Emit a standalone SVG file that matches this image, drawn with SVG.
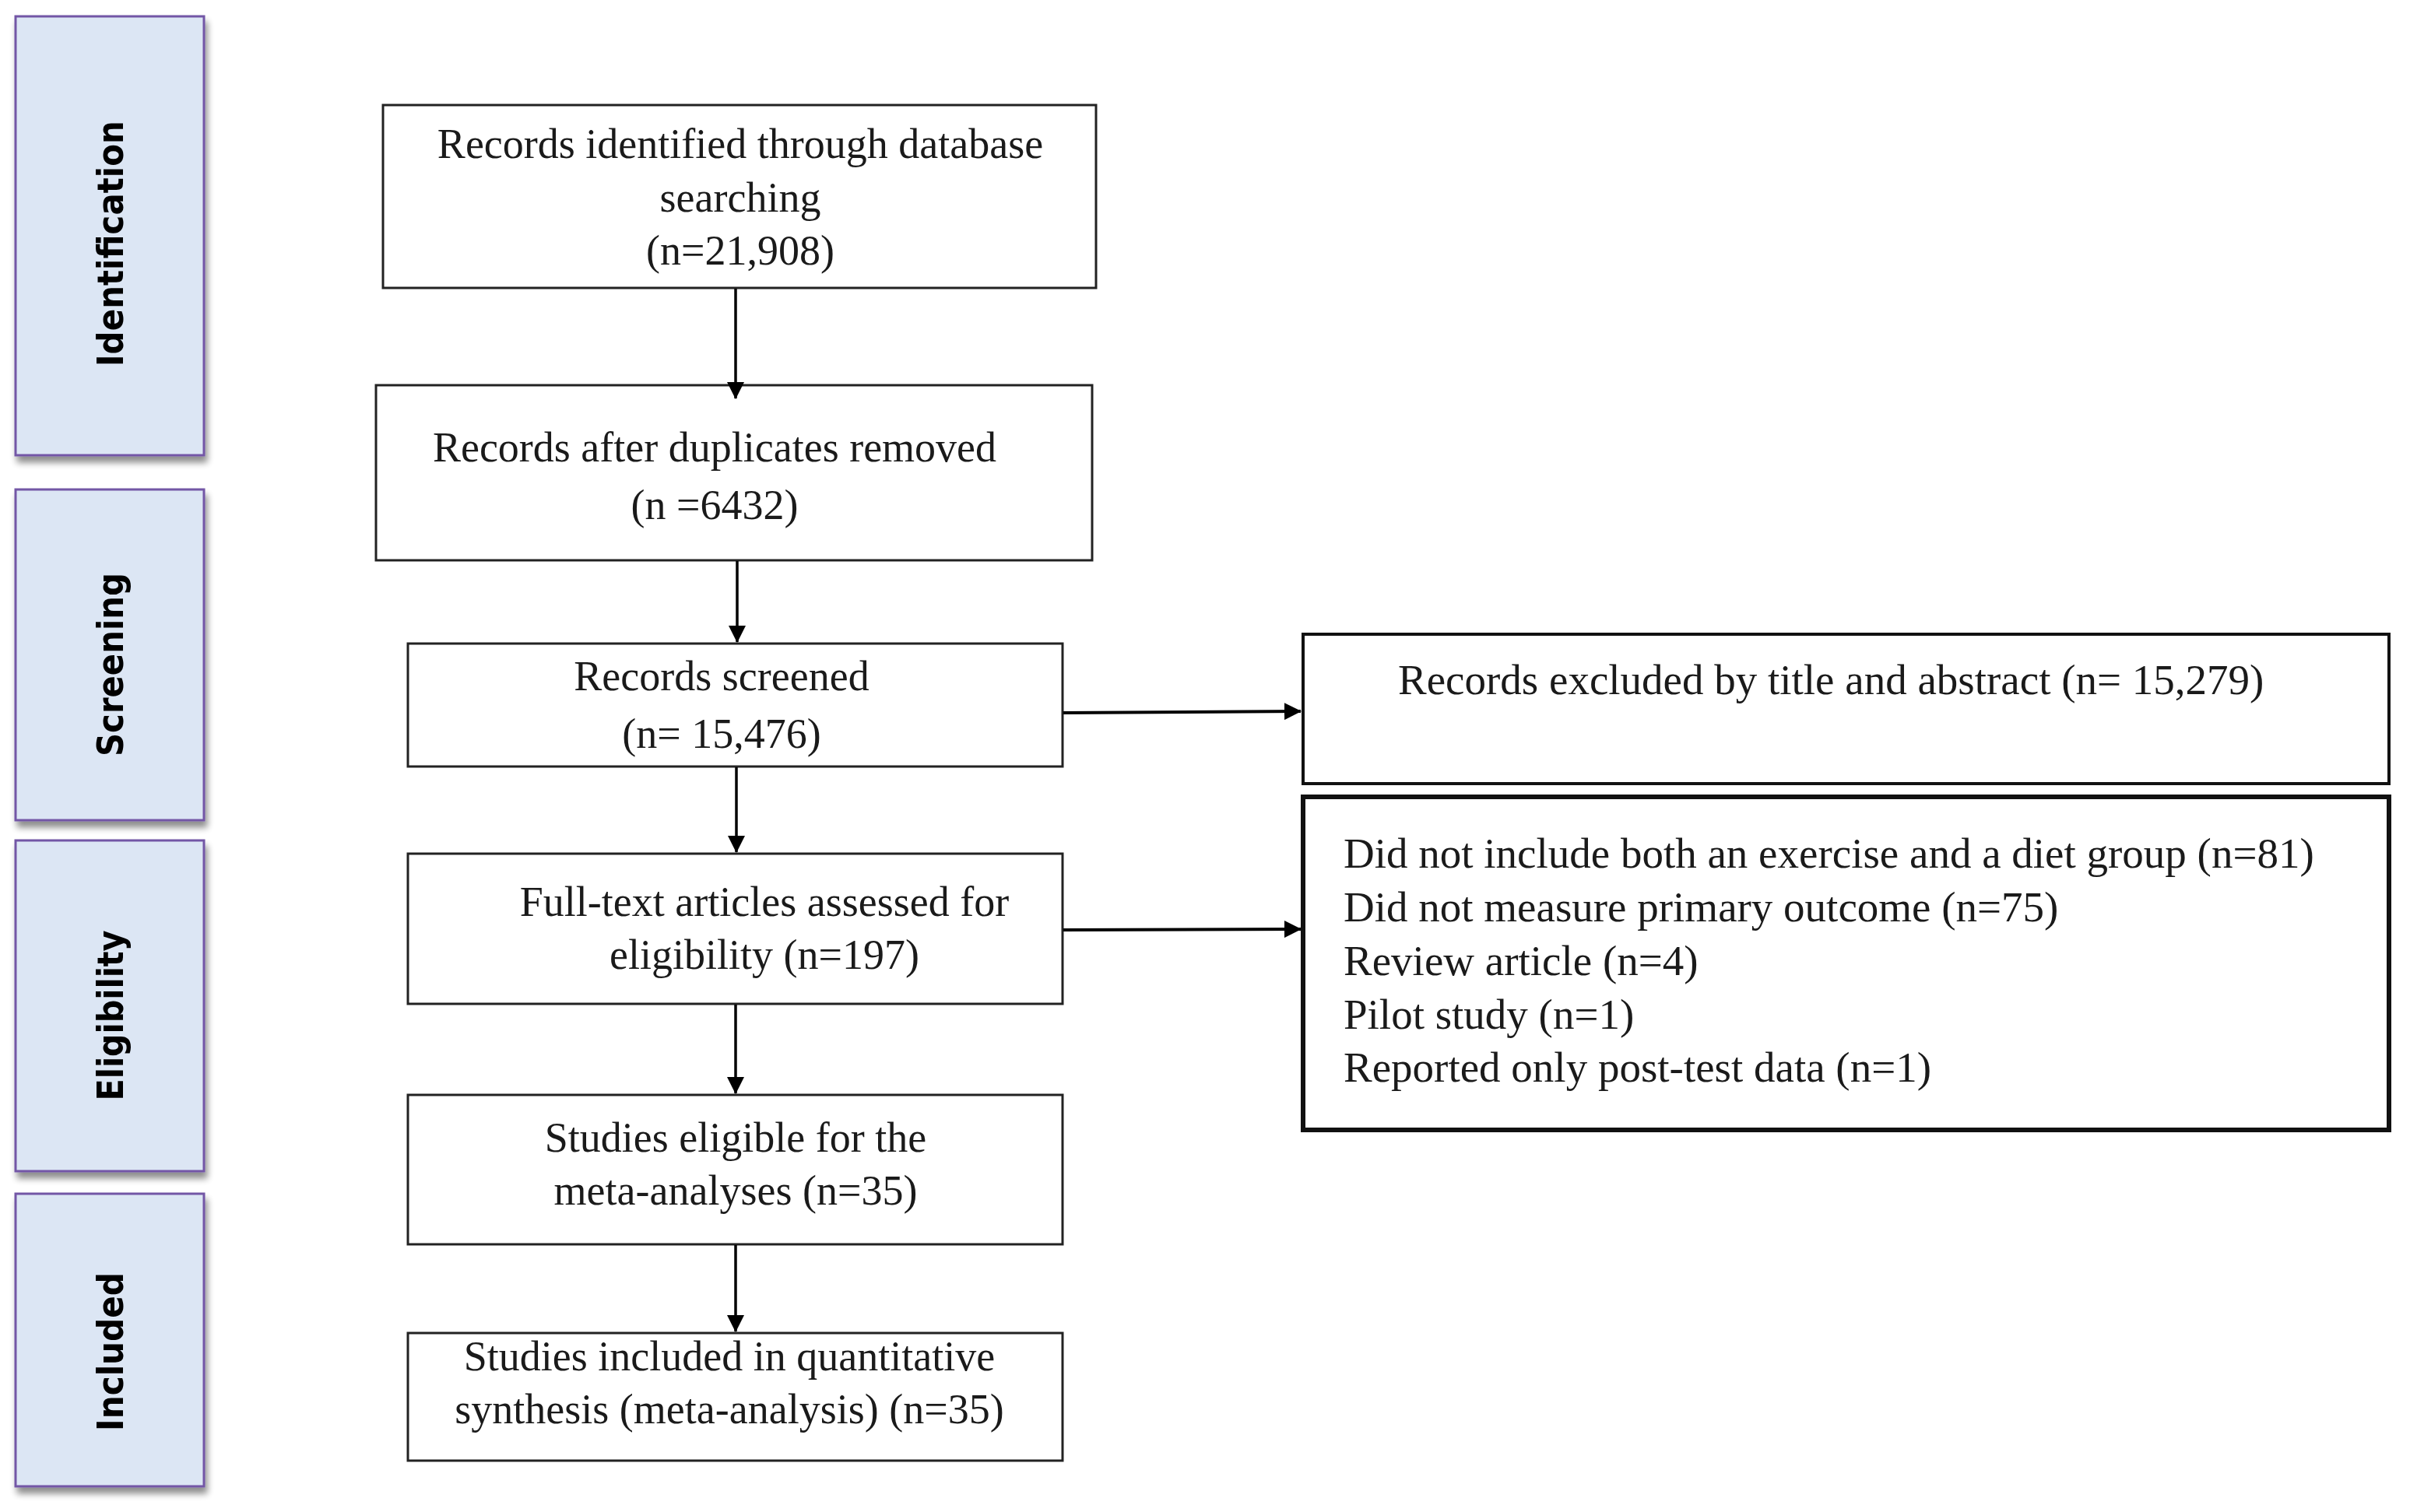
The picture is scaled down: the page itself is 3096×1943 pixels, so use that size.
<svg xmlns="http://www.w3.org/2000/svg" width="3096" height="1943" viewBox="0 0 3096 1943">
<defs>
  <marker id="ah" markerUnits="userSpaceOnUse" markerWidth="22" markerHeight="22" refX="21" refY="11" orient="auto">
    <path d="M0,0 L22,11 L0,22 z" fill="#000"/>
  </marker>
  <filter id="sh" x="-10%" y="-10%" width="130%" height="130%">
    <feGaussianBlur in="SourceAlpha" stdDeviation="4"/>
    <feOffset dx="3" dy="8" result="b"/>
    <feComponentTransfer><feFuncA type="linear" slope="0.45"/></feComponentTransfer>
    <feMerge><feMergeNode/><feMergeNode in="SourceGraphic"/></feMerge>
  </filter>
</defs>
<style>
  .stage rect { fill: #dce6f4; stroke: #7357a6; stroke-width: 3; }
  .stage text { font-family: "DejaVu Sans", "Liberation Sans", sans-serif; font-weight: bold; font-size: 47px; fill: #000; text-anchor: middle; }
  .box rect { fill: #fff; stroke: #222; stroke-width: 3; }
  .box text { font-family: "Liberation Serif", "Times New Roman", serif; font-size: 54px; fill: #1a1a1a; text-anchor: middle; }
  .excl rect { fill: #fff; stroke: #111; }
  .excl text { font-family: "Liberation Serif", "Times New Roman", serif; font-size: 55px; fill: #1a1a1a; }
  .conn line { stroke: #000; marker-end: url(#ah); }
</style>
<rect width="3096" height="1943" fill="#fff"/>

<g id="stage-identification" class="stage" filter="url(#sh)">
  <rect x="20" y="21" width="242" height="564"/>
  <text transform="translate(158,313) rotate(-90)" textLength="316" lengthAdjust="spacingAndGlyphs">Identification</text>
</g>
<g id="stage-screening" class="stage" filter="url(#sh)">
  <rect x="20" y="629" width="242" height="425"/>
  <text transform="translate(158,854) rotate(-90)" textLength="236" lengthAdjust="spacingAndGlyphs">Screening</text>
</g>
<g id="stage-eligibility" class="stage" filter="url(#sh)">
  <rect x="20" y="1080" width="242" height="425"/>
  <text transform="translate(158,1305) rotate(-90)" textLength="219" lengthAdjust="spacingAndGlyphs">Eligibility</text>
</g>
<g id="stage-included" class="stage" filter="url(#sh)">
  <rect x="20" y="1534" width="242" height="376"/>
  <text transform="translate(158,1737) rotate(-90)" textLength="204" lengthAdjust="spacingAndGlyphs">Included</text>
</g>

<g id="identified" class="box">
  <rect x="492" y="135" width="916" height="235"/>
  <text x="951" y="203">Records identified through database</text>
  <text x="951" y="272">searching</text>
  <text x="951" y="340">(n=21,908)</text>
</g>
<g id="deduplicated" class="box">
  <rect x="483" y="495" width="920" height="225"/>
  <text x="918" y="593">Records after duplicates removed</text>
  <text x="918" y="667">(n =6432)</text>
</g>
<g id="screened" class="box">
  <rect x="524" y="827" width="841" height="158"/>
  <text x="927" y="887">Records screened</text>
  <text x="927" y="961">(n= 15,476)</text>
</g>
<g id="fulltext" class="box">
  <rect x="524" y="1097" width="841" height="193"/>
  <text x="982" y="1177">Full-text articles assessed for</text>
  <text x="982" y="1245">eligibility (n=197)</text>
</g>
<g id="eligible" class="box">
  <rect x="524" y="1407" width="841" height="192"/>
  <text x="945" y="1480">Studies eligible for the</text>
  <text x="945" y="1548">meta-analyses (n=35)</text>
</g>
<g id="included" class="box">
  <rect x="524" y="1713" width="841" height="164"/>
  <text x="937" y="1761">Studies included in quantitative</text>
  <text x="937" y="1829">synthesis (meta-analysis) (n=35)</text>
</g>

<g id="excluded-title" class="excl">
  <rect x="1674" y="815" width="1395" height="192" stroke-width="4"/>
  <text x="1796" y="892">Records excluded by title and abstract (n= 15,279)</text>
</g>
<g id="excluded-fulltext" class="excl">
  <rect x="1674" y="1024" width="1395" height="428" stroke-width="6"/>
  <text x="1726" y="1115">Did not include both an exercise and a diet group (n=81)</text>
  <text x="1726" y="1184">Did not measure primary outcome (n=75)</text>
  <text x="1726" y="1253">Review article (n=4)</text>
  <text x="1726" y="1322">Pilot study (n=1)</text>
  <text x="1726" y="1390">Reported only post-test data (n=1)</text>
</g>

<g id="connectors" class="conn">
  <line x1="945" y1="371" x2="945" y2="512" stroke-width="3.5"/>
  <line x1="947" y1="721" x2="947" y2="825" stroke-width="3.5"/>
  <line x1="946" y1="986" x2="946" y2="1095" stroke-width="3.5"/>
  <line x1="945" y1="1291" x2="945" y2="1405" stroke-width="3.5"/>
  <line x1="945" y1="1600" x2="945" y2="1711" stroke-width="3.5"/>
  <line x1="1366" y1="916" x2="1671" y2="914" stroke-width="4"/>
  <line x1="1366" y1="1195" x2="1671" y2="1194" stroke-width="4"/>
</g>
</svg>
